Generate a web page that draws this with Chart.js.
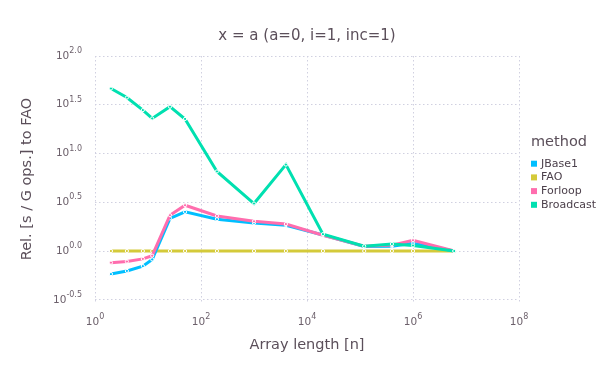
<!DOCTYPE html>
<html>
<head>
<meta charset="utf-8">
<script src="https://cdn.jsdelivr.net/npm/chart.js@4.4.0/dist/chart.umd.min.js"></script>
<style>
html, body { margin: 0; padding: 0; background: #fff; }
#wrap { width: 605px; height: 378px; }
</style>
</head>
<body>
<div id="wrap"><canvas id="line-chart"></canvas></div>
<script>
// array lengths (x) and relative times per method
var sizes = [2, 4, 8, 12, 26, 50, 200, 1000, 4000, 20000, 120000, 400000, 1000000, 6000000];
var jbase1 = [0.58, 0.625, 0.70, 0.82, 2.16, 2.52, 2.12, 1.94, 1.84, 1.46, 1.11, 1.12, 1.20, 1.0];
var fao = [1, 1, 1, 1, 1, 1, 1, 1, 1, 1, 1, 1, 1, 1];
var forloop = [0.76, 0.78, 0.83, 0.895, 2.33, 2.95, 2.29, 2.02, 1.89, 1.45, 1.12, 1.15, 1.29, 1.0];
var broadcast = [46.4, 37.5, 27.9, 22.9, 30.2, 22.6, 6.55, 3.07, 7.7, 1.49, 1.12, 1.18, 1.14, 1.0];

var methods = ["JBase1", "FAO", "Forloop", "Broadcast"];
var colors = ["#00BFFF", "#D4CA3A", "#FF6DAE", "#00E0B0"];

// tick exponents (labels are 10^exp)
var xTickExp = ["0", "2", "4", "6", "8"];
var yTickExp = ["-0.5", "0.0", "0.5", "1.0", "1.5", "2.0"];

var FONT = "'DejaVu Sans', sans-serif";
var TEXT = "#6c606b";
var DARK = "#5b4f5a";

function pts(ys) {
    return sizes.map(function (x, i) { return { x: x, y: ys[i] }; });
}

function ds(i, ys, order) {
    return {
        label: methods[i],
        data: pts(ys),
        borderColor: colors[i],
        backgroundColor: colors[i],
        pointBackgroundColor: colors[i],
        pointBorderColor: "#ffffff",
        pointBorderWidth: 1,
        pointRadius: 1.6,
        borderWidth: 3,
        tension: 0,
        fill: false,
        order: order
    };
}

function powLabel(ctx, exp, x, y, align) {
    ctx.font = "10.5px " + FONT;
    var wb = ctx.measureText("10").width;
    ctx.font = "8px " + FONT;
    var ws = ctx.measureText(exp).width;
    var start = align === "right" ? x - wb - ws : x - (wb + ws) / 2;
    ctx.textAlign = "left";
    ctx.textBaseline = "middle";
    ctx.font = "10.5px " + FONT;
    ctx.fillText("10", start, y);
    ctx.font = "8px " + FONT;
    ctx.fillText(exp, start + wb, y - 5);
}

var extras = {
    id: "extras",
    afterDraw: function (chart) {
        var ctx = chart.ctx;
        var area = chart.chartArea;
        ctx.save();
        ctx.fillStyle = TEXT;
        var xs = chart.scales.x, ys = chart.scales.y;
        xTickExp.forEach(function (e) {
            powLabel(ctx, e, xs.getPixelForValue(Math.pow(10, parseFloat(e))), 322, "center");
        });
        yTickExp.forEach(function (e) {
            powLabel(ctx, e, 82, ys.getPixelForValue(Math.pow(10, parseFloat(e))), "right");
        });

        // title
        ctx.fillStyle = DARK;
        ctx.font = "15px " + FONT;
        ctx.textAlign = "center";
        ctx.textBaseline = "middle";
        ctx.fillText("x = a (a=0, i=1, inc=1)", (area.left + area.right) / 2, 36);

        // legend
        ctx.textAlign = "left";
        ctx.textBaseline = "alphabetic";
        ctx.font = "14.5px " + FONT;
        ctx.fillText("method", 531, 146);
        ctx.font = "11px " + FONT;
        ctx.textBaseline = "middle";
        chart.data.datasets.forEach(function (d, i) {
            var cy = 163.7 + i * 13.7;
            ctx.fillStyle = d.borderColor;
            ctx.fillRect(531, cy - 3, 6, 6);
            ctx.fillStyle = "#4c404b";
            ctx.fillText(d.label, 541, cy);
        });
        ctx.restore();
    }
};

new Chart(document.getElementById("line-chart"), {
    type: "line",
    data: {
        datasets: [
            ds(0, jbase1, 2),
            ds(1, fao, 3),
            ds(2, forloop, 1),
            ds(3, broadcast, 0)
        ]
    },
    plugins: [extras],
    options: {
        responsive: true,
        maintainAspectRatio: false,
        animation: false,
        layout: { padding: { top: 56, right: 86, left: 0, bottom: 0 } },
        plugins: {
            legend: { display: false },
            title: { display: false },
            tooltip: { enabled: false }
        },
        scales: {
            x: {
                type: "logarithmic",
                min: 1,
                max: 1e8,
                afterBuildTicks: function (s) {
                    s.ticks = xTickExp.map(function (e) { return { value: Math.pow(10, parseFloat(e)) }; });
                },
                afterFit: function (s) { s.height = 76; },
                ticks: { display: false },
                grid: { color: "#d0d0e0", lineWidth: 1, drawTicks: false },
                border: { display: false, dash: [1.5, 2.5] },
                title: {
                    display: true,
                    text: "Array length [n]",
                    color: DARK,
                    font: { family: FONT, size: 14.5 },
                    padding: { top: 0, bottom: 24 }
                }
            },
            y: {
                type: "logarithmic",
                min: Math.pow(10, -0.5),
                max: 100,
                afterBuildTicks: function (s) {
                    s.ticks = yTickExp.map(function (e) { return { value: Math.pow(10, parseFloat(e)) }; });
                },
                afterFit: function (s) { s.width = 95; },
                ticks: { display: false },
                grid: { color: "#d0d0e0", lineWidth: 1, drawTicks: false },
                border: { display: false, dash: [1.5, 2.5] },
                title: {
                    display: true,
                    text: "Rel. [s / G ops.] to FAO",
                    color: DARK,
                    font: { family: FONT, size: 14.5 },
                    padding: { top: 18.3, bottom: 0 }
                }
            }
        }
    }
});
</script>
</body>
</html>
